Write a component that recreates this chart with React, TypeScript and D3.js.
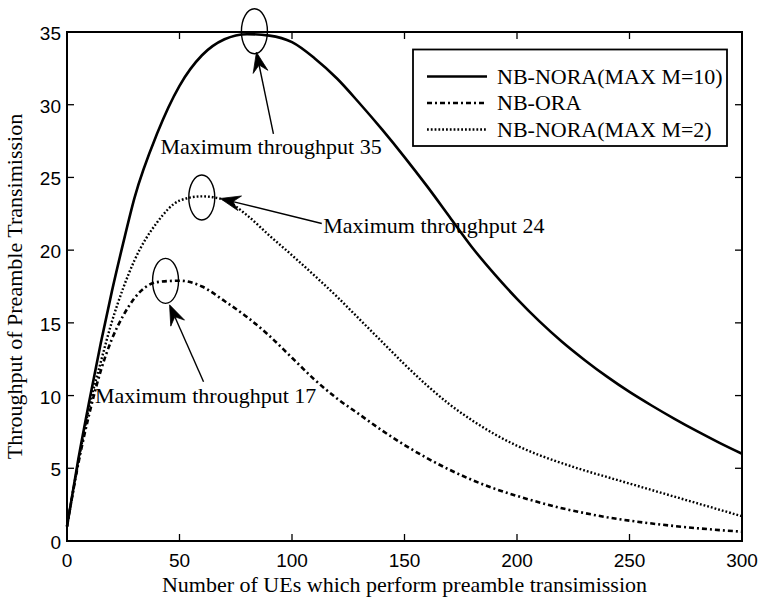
import React from 'react';
import * as d3 from 'd3';

const xVals = [0, 5, 10, 15, 20, 25, 30, 40, 50, 60, 70, 80, 90, 100, 110, 120, 130, 140, 150, 160, 170, 180, 190, 200, 210, 220, 230, 240, 250, 260, 270, 280, 290, 300];
const noraM10 = [1.0, 5.6, 9.7, 13.6, 17.2, 20.5, 23.6, 28.0, 31.3, 33.4, 34.5, 34.85, 34.75, 34.3, 33.2, 31.8, 30.1, 28.3, 26.4, 24.4, 22.3, 20.2, 18.35, 16.65, 15.1, 13.7, 12.45, 11.3, 10.25, 9.3, 8.4, 7.55, 6.75, 6.0];
const ora = [1.0, 5.3, 8.8, 11.7, 13.9, 15.5, 16.7, 17.8, 17.9, 17.5, 16.5, 15.4, 14.1, 12.6, 11.1, 9.8, 8.7, 7.6, 6.6, 5.7, 4.9, 4.2, 3.6, 3.1, 2.65, 2.25, 1.92, 1.63, 1.4, 1.2, 1.03, 0.88, 0.75, 0.64];
const noraM2 = [1.0, 5.4, 9.3, 12.3, 15.1, 17.4, 19.3, 21.9, 23.4, 23.7, 23.45, 22.4, 21.0, 19.65, 18.25, 16.8, 15.25, 13.7, 12.15, 10.7, 9.4, 8.3, 7.35, 6.55, 5.9, 5.35, 4.85, 4.4, 3.95, 3.5, 3.05, 2.6, 2.15, 1.7];

const xTicks = [0, 50, 100, 150, 200, 250, 300];
const yTicks = [0, 5, 10, 15, 20, 25, 30, 35];

const seriesNames = ['NB-NORA(MAX M=10)', 'NB-ORA', 'NB-NORA(MAX M=2)'];
const seriesValues = [noraM10, ora, noraM2];
const seriesDash = ['none', '5,3,2,3', '1.8,2'];
const seriesWidth = [2.6, 2.6, 2.4];

// annotations: peak location (data coords) and label
const annPeakX = [83.3, 59.9, 43.8];
const annPeakY = [35.05, 23.62, 17.89];
const annLabels = ['Maximum throughput 35', 'Maximum throughput 24', 'Maximum throughput 17'];

const W = 760, H = 598;
const left = 67, right = 742, top = 32, bottom = 541;

const serif = '"Liberation Serif", "Times New Roman", Times, serif';
const sans = '"Liberation Sans", Arial, Helvetica, sans-serif';

function arrowPath(tx: number, ty: number, hx: number, hy: number) {
  const dx = tx - hx, dy = ty - hy;
  const len = Math.sqrt(dx * dx + dy * dy);
  const ux = dx / len, uy = dy / len;
  const nx = -uy, ny = ux;
  const L = 20, Wd = 7.5, N = 13;
  const p1 = [hx + ux * L + nx * Wd, hy + uy * L + ny * Wd];
  const p2 = [hx + ux * N, hy + uy * N];
  const p3 = [hx + ux * L - nx * Wd, hy + uy * L - ny * Wd];
  return {
    line: `M${tx},${ty}L${p2[0]},${p2[1]}`,
    head: `M${hx},${hy}L${p1[0]},${p1[1]}L${p2[0]},${p2[1]}L${p3[0]},${p3[1]}Z`,
  };
}

export default function App() {
  const x = d3.scaleLinear().domain([0, 300]).range([left, right]);
  const y = d3.scaleLinear().domain([0, 35]).range([bottom, top]);
  const line = d3.line<number>().x((_, i) => x(xVals[i])).y((d) => y(d)).curve(d3.curveMonotoneX);

  const e = annPeakX.map((px, i) => ({ cx: x(px), cy: y(annPeakY[i]) }));
  const arrows = [
    arrowPath(e[0].cx + 19, e[0].cy + 102.5, e[0].cx + 2, e[0].cy + 21),
    arrowPath(e[1].cx + 120, e[1].cy + 26, e[1].cx + 18.5, e[1].cy + 1),
    arrowPath(e[2].cx + 38, e[2].cy + 101, e[2].cx + 4, e[2].cy + 24),
  ];
  const labelPos = [
    [e[0].cx - 94, e[0].cy + 122.5],
    [e[1].cx + 121.5, e[1].cy + 36],
    [e[2].cx - 70.5, e[2].cy + 122],
  ];

  const legX = 413, legY = 49.5, legW = 314, legH = 96.5;
  const rowY = [76.5, 103, 129.5];

  return (
    <div style={{ position: 'absolute', left: 0, top: 0 }}>
      <svg width={W} height={H} style={{ display: 'block', background: '#fff' }}>
        <rect x={0} y={0} width={W} height={H} fill="#fff" />
        {seriesValues.map((vals, i) => (
          <path key={i} d={line(vals) || ''} fill="none" stroke="#000" strokeWidth={seriesWidth[i]}
            strokeDasharray={seriesDash[i]} strokeLinejoin="round" />
        ))}
        <rect x={left} y={top} width={right - left} height={bottom - top} fill="none" stroke="#000" strokeWidth={2} />
        {xTicks.map((t) => (
          <g key={'xt' + t}>
            <line x1={x(t)} x2={x(t)} y1={bottom} y2={bottom - 7} stroke="#000" strokeWidth={1.3} />
            <line x1={x(t)} x2={x(t)} y1={top} y2={top + 7} stroke="#000" strokeWidth={1.3} />
            <text x={x(t)} y={567} textAnchor="middle" fontFamily={sans} fontSize={19} fill="#000">{t}</text>
          </g>
        ))}
        {yTicks.map((t) => (
          <g key={'yt' + t}>
            <line x1={left} x2={left + 7} y1={y(t)} y2={y(t)} stroke="#000" strokeWidth={1.3} />
            <line x1={right} x2={right - 7} y1={y(t)} y2={y(t)} stroke="#000" strokeWidth={1.3} />
            <text x={61} y={y(t) + 8} textAnchor="end" fontFamily={sans} fontSize={19} fill="#000">{t}</text>
          </g>
        ))}
        <text x={(left + right) / 2} y={592} textAnchor="middle" fontFamily={serif} fontSize={22} fill="#000">
          Number of UEs which perform preamble transimission
        </text>
        <text transform={`translate(22,${(top + bottom) / 2}) rotate(-90)`} textAnchor="middle" fontFamily={serif} fontSize={22} fill="#000">
          Throughput of Preamble Transimission
        </text>
        <rect x={legX} y={legY} width={legW} height={legH} fill="#fff" stroke="#000" strokeWidth={1.8} />
        {seriesNames.map((n, i) => (
          <g key={'lg' + i}>
            <line x1={427} x2={487} y1={rowY[i]} y2={rowY[i]} stroke="#000" strokeWidth={seriesWidth[i]} strokeDasharray={seriesDash[i]} />
            <text x={497} y={rowY[i] + 7} fontFamily={serif} fontSize={22} fill="#000">{n}</text>
          </g>
        ))}
        {e.map((c, i) => (
          <g key={'an' + i}>
            <ellipse cx={c.cx} cy={c.cy} rx={13} ry={22.5} fill="none" stroke="#000" strokeWidth={1.4} />
            <path d={arrows[i].line} stroke="#000" strokeWidth={1.4} fill="none" />
            <path d={arrows[i].head} fill="#000" stroke="#000" strokeWidth={0.8} strokeLinejoin="miter" />
            <text x={labelPos[i][0]} y={labelPos[i][1]} fontFamily={serif} fontSize={22} fill="#000">{annLabels[i]}</text>
          </g>
        ))}
      </svg>
    </div>
  );
}
